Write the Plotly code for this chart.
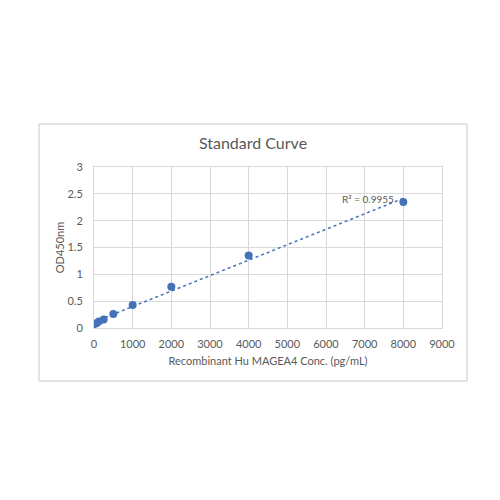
import numpy as np
import plotly.graph_objects as go

conc = [0, 62.5, 125, 250, 500, 1000, 2000, 4000, 8000]
od450 = [0.07, 0.09, 0.12, 0.16, 0.26, 0.43, 0.77, 1.35, 2.35]
x_ticks = [0, 1000, 2000, 3000, 4000, 5000, 6000, 7000, 8000, 9000]
y_ticks = [0, 0.5, 1, 1.5, 2, 2.5, 3]

slope, intercept = np.polyfit(conc, od450, 1)
fit_x = [min(conc), max(conc)]
fit_y = [slope * v + intercept for v in fit_x]

FONT = "Lato, Open Sans, sans-serif"
GRAY = "#595959"
GRID = "#d9d9d9"
BLUE = "#4571b9"

W, H = 492, 492
L, T = 86, 159
PW, PH = 348, 161

fig = go.Figure()
fig.add_trace(go.Scatter(x=fit_x, y=fit_y, mode="lines",
                         line=dict(color=BLUE, width=1.5, dash="dot"),
                         hoverinfo="skip", showlegend=False))
fig.add_trace(go.Scatter(x=conc, y=od450, mode="markers",
                         marker=dict(color=BLUE, size=8),
                         showlegend=False))

fig.add_annotation(x=8000, y=2.35, xref="x", yref="y", text="R² = 0.9955",
                   showarrow=False, xanchor="right", yanchor="middle",
                   xshift=-7, yshift=3, font=dict(family=FONT, size=10, color=GRAY))

fig.add_shape(type="rect", xref="paper", yref="paper",
              x0=(31 - L) / PW, x1=(459 - L) / PW,
              y0=-(373 - (T + PH)) / PH, y1=((T + PH) - 116) / PH,
              line=dict(color="#c8c8c8", width=1), fillcolor="rgba(0,0,0,0)", layer="below")

fig.update_layout(
    width=W, height=H,
    paper_bgcolor="white", plot_bgcolor="white",
    margin=dict(l=L, r=W - L - PW, t=T, b=H - T - PH),
    title=dict(text="Standard Curve", x=245 / W, xanchor="center",
               y=1 - 135 / H, yanchor="middle",
               font=dict(family=FONT, size=16, color=GRAY)),
    xaxis=dict(range=[0, 9000], tickvals=x_ticks, showgrid=True, gridcolor=GRID,
               gridwidth=1, zeroline=False, showline=True, linecolor=GRID, mirror=True,
               ticks="", ticklabelstandoff=6, tickfont=dict(family=FONT, size=11, color=GRAY),
               title=dict(text="Recombinant Hu MAGEA4 Conc. (pg/mL)", standoff=8,
                          font=dict(family=FONT, size=11, color=GRAY))),
    yaxis=dict(range=[0, 3], tickvals=y_ticks, showgrid=True, gridcolor=GRID,
               gridwidth=1, zeroline=False, showline=True, linecolor=GRID, mirror=True,
               ticks="", ticklabelstandoff=8, tickfont=dict(family=FONT, size=11, color=GRAY),
               title=dict(text="OD450nm", standoff=0,
                          font=dict(family=FONT, size=11, color=GRAY))),
)

fig.write_html("out.html")
